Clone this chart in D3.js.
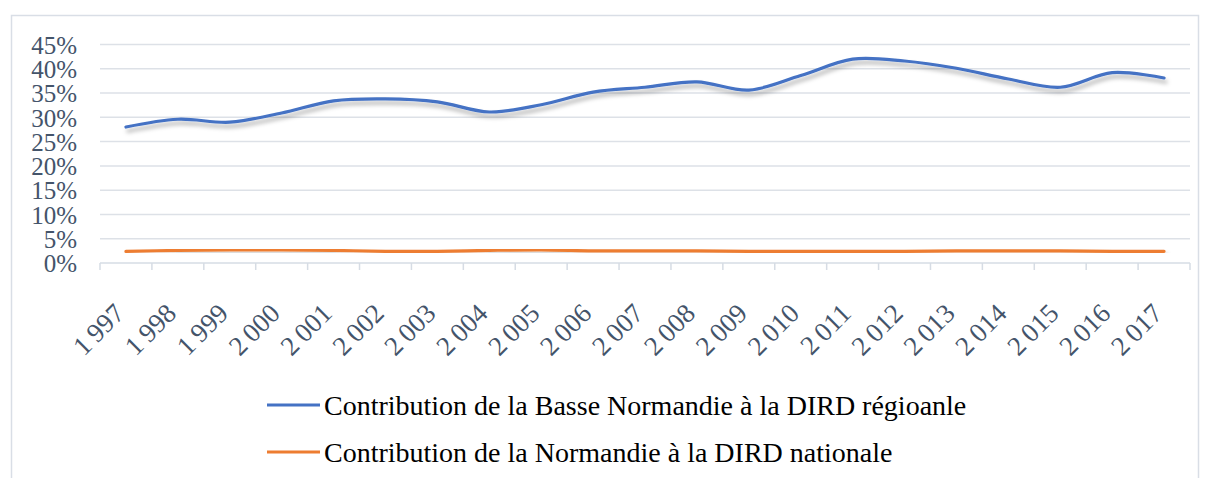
<!DOCTYPE html>
<html>
<head>
<meta charset="utf-8">
<script src="https://cdn.jsdelivr.net/npm/d3@7"></script>
<style>
  html, body { margin: 0; padding: 0; background: #fff; }
  svg { display: block; }
</style>
</head>
<body>
<svg id="chart" width="1209" height="478"></svg>
<script>
// Years on the category axis
const years = ["1997","1998","1999","2000","2001","2002","2003","2004","2005","2006",
               "2007","2008","2009","2010","2011","2012","2013","2014","2015","2016","2017"];

// Share of Basse-Normandie in regional R&D spending (%)
const basseNormandie = [28.0, 29.6, 29.0, 30.9, 33.4, 33.8, 33.2, 31.1, 32.6, 35.2,
                        36.2, 37.3, 35.6, 38.6, 42.0, 41.6, 40.1, 37.9, 36.2, 39.2, 38.1];

// Share of Normandie in national R&D spending (%)
const normandie = [2.4, 2.6, 2.7, 2.7, 2.6, 2.4, 2.4, 2.6, 2.7, 2.5,
                   2.5, 2.5, 2.4, 2.4, 2.4, 2.4, 2.5, 2.5, 2.5, 2.4, 2.4];

const yTicks = [0, 5, 10, 15, 20, 25, 30, 35, 40, 45];

const seriesNames = [
  "Contribution de la Basse Normandie à la DIRD régioanle",
  "Contribution de la Normandie à la DIRD nationale"
];
const seriesColors = ["#4472C4", "#ED7D31"];

const svg = d3.select("#chart");

// Chart frame
svg.append("rect")
  .attr("x", 11.5).attr("y", 15.5)
  .attr("width", 1187).attr("height", 480)
  .attr("fill", "#fff")
  .attr("stroke", "#D9DEE6").attr("stroke-width", 1.5);

const plot = { left: 100, right: 1190, top: 44.5, bottom: 263 };

const x = d3.scaleBand().domain(years).range([plot.left, plot.right]).padding(0);
const y = d3.scaleLinear().domain([0, 45]).range([plot.bottom, plot.top]);

// Drop shadow for the lines
const defs = svg.append("defs");
const f = defs.append("filter").attr("id", "shadow")
  .attr("x", "-5%").attr("y", "-50%").attr("width", "110%").attr("height", "200%");
f.append("feDropShadow")
  .attr("dx", 2).attr("dy", 4).attr("stdDeviation", 2)
  .attr("flood-color", "#000").attr("flood-opacity", 0.3);

const labelColor = "#44546A";
const serif = "'Liberation Serif', 'Times New Roman', serif";

// Horizontal gridlines
svg.append("g")
  .selectAll("line")
  .data(yTicks.filter(d => d > 0))
  .join("line")
  .attr("x1", plot.left).attr("x2", plot.right)
  .attr("y1", d => y(d)).attr("y2", d => y(d))
  .attr("stroke", "#DDE1E7").attr("stroke-width", 1.5);

// Y axis labels
const yAxis = d3.axisLeft(y).tickValues(yTicks).tickFormat(d => d + "%").tickSize(0).tickPadding(0);
const gy = svg.append("g").attr("transform", `translate(77,0)`).call(yAxis);
gy.select(".domain").remove();
gy.selectAll("text")
  .attr("fill", labelColor)
  .attr("font-family", serif)
  .attr("font-size", 25)
  .attr("dy", "0.35em");

// X axis line and ticks at category boundaries
const xAxisG = svg.append("g");
xAxisG.append("line")
  .attr("x1", plot.left).attr("x2", plot.right)
  .attr("y1", plot.bottom).attr("y2", plot.bottom)
  .attr("stroke", "#D6DCE4").attr("stroke-width", 1.5);
const bounds = years.map(d => x(d)).concat([x(years[years.length - 1]) + x.bandwidth()]);
xAxisG.selectAll("line.tick")
  .data(bounds)
  .join("line")
  .attr("class", "tick")
  .attr("x1", d => d).attr("x2", d => d)
  .attr("y1", plot.bottom).attr("y2", plot.bottom + 7)
  .attr("stroke", "#D6DCE4").attr("stroke-width", 1.5);

// Rotated year labels, written with a thousands space
const fmtYear = s => s[0] + "\u2009" + s.slice(1);
xAxisG.selectAll("text")
  .data(years)
  .join("text")
  .attr("transform", d => `translate(${x(d) + x.bandwidth() / 2},${plot.bottom + 52}) rotate(-45)`)
  .attr("text-anchor", "end")
  .attr("fill", labelColor)
  .attr("font-family", serif)
  .attr("font-size", 27)
  .text(d => fmtYear(d));

// Smoothed lines
const line = d3.line()
  .x((d, i) => x(years[i]) + x.bandwidth() / 2)
  .y(d => y(d))
  .curve(d3.curveCatmullRom.alpha(0.5));

[normandie, basseNormandie].forEach((vals, k) => {
  const color = k === 0 ? seriesColors[1] : seriesColors[0];
  svg.append("path")
    .datum(vals)
    .attr("d", line)
    .attr("fill", "none")
    .attr("stroke", color)
    .attr("stroke-width", 3.2)
    .attr("stroke-linecap", "round")
    .attr("filter", "url(#shadow)");
});

// Legend
const legend = svg.append("g");
const legendRows = [{ y: 405 }, { y: 452 }];
seriesNames.forEach((name, i) => {
  const row = legend.append("g").attr("transform", `translate(0,${legendRows[i].y})`);
  row.append("line")
    .attr("x1", 267).attr("x2", 320)
    .attr("y1", 0).attr("y2", 0)
    .attr("stroke", seriesColors[i]).attr("stroke-width", 3.2);
  row.append("text")
    .attr("x", 324).attr("y", 10)
    .attr("fill", "#000")
    .attr("font-family", serif)
    .attr("font-size", 28)
    .text(name);
});
</script>
</body>
</html>
